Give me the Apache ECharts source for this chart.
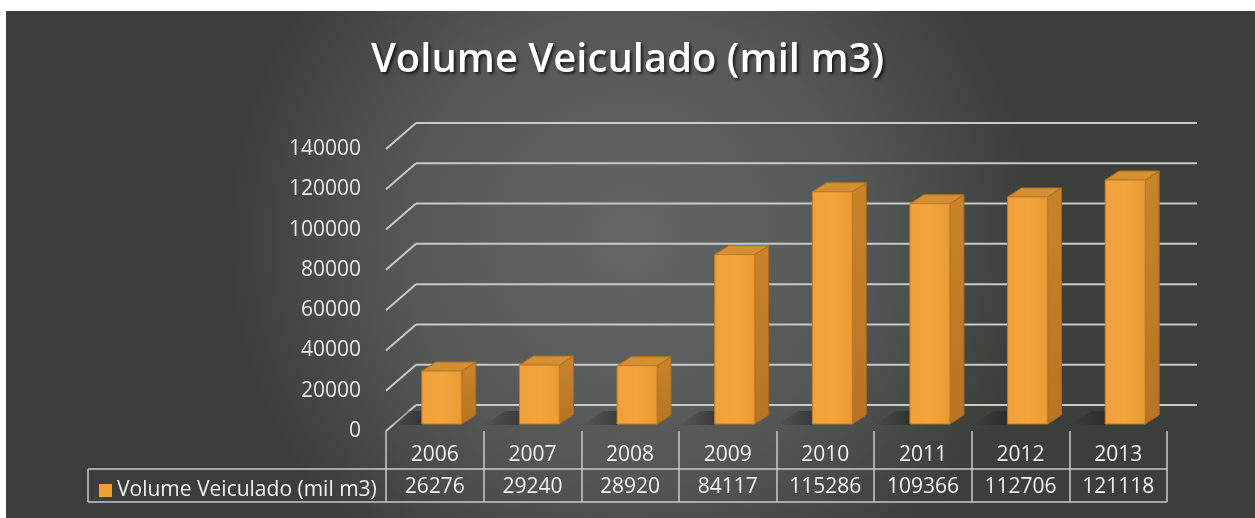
<!DOCTYPE html>
<html><head><meta charset="utf-8">
<script src="https://cdn.jsdelivr.net/npm/echarts@6/dist/echarts.min.js"></script>
<style>html,body{margin:0;padding:0;background:#fff}#c{width:1255px;height:518px}</style>
</head><body><div id="c"></div>
<script>
const years = ['2006', '2007', '2008', '2009', '2010', '2011', '2012', '2013'];
const values = [26276, 29240, 28920, 84117, 115286, 109366, 112706, 121118];
const yTicks = [0, 20000, 40000, 60000, 80000, 100000, 120000, 140000];
const seriesName = 'Volume Veiculado (mil m3)';
const titleText = 'Volume Veiculado (mil m3)';

const FONT = 'Open Sans';
const GRID = '#c6cac8';
const BACK_DX = 30, BACK_DY = -26;
const BAR_DX = 7, BAR_DY = -7;
const BAR_W = 40, DEP_X = 14, DEP_Y = -9;

const chart = echarts.init(document.getElementById('c'));

function wallItem(params, api) {
  const v = api.value(1);
  const band = api.size([1, 0])[0];
  const pl = api.coord([0, v]);
  const pr = api.coord([years.length - 1, v]);
  const xl = pl[0] - band / 2, xr = pr[0] + band / 2, y = pl[1];
  return {
    type: 'group',
    children: [
      { type: 'line', shape: { x1: xl, y1: y, x2: xl + BACK_DX, y2: y + BACK_DY },
        style: { stroke: GRID, lineWidth: 2 } },
      { type: 'line', shape: { x1: xl + BACK_DX, y1: y + BACK_DY, x2: xr + BACK_DX, y2: y + BACK_DY },
        style: { stroke: GRID, lineWidth: 2 } }
    ]
  };
}

function barItem(params, api) {
  const i = api.value(0), v = api.value(1);
  const p0 = api.coord([i, 0]);
  const p1 = api.coord([i, v]);
  const cx = p0[0] + BAR_DX;
  const xl = cx - BAR_W / 2, xr = cx + BAR_W / 2;
  const yb = p0[1] + BAR_DY, yt = p1[1] + BAR_DY;
  return {
    type: 'group',
    children: [
      { type: 'polygon', shape: { points: [[xl - 36, yb + 1], [xl - 14, yb - 13], [xl + 6, yb - 13], [xl, yb + 1]] },
        style: { fill: new echarts.graphic.LinearGradient(1, 0, 0, 0, [
          { offset: 0, color: 'rgba(25,28,26,0.55)' }, { offset: 1, color: 'rgba(25,28,26,0)' }]) } },
      { type: 'polygon', shape: { points: [[xr, yt], [xr + DEP_X, yt + DEP_Y], [xr + DEP_X, yb + DEP_Y], [xr, yb]] },
        style: { fill: new echarts.graphic.LinearGradient(0, 0, 0, 1, [
          { offset: 0, color: '#c9832a' }, { offset: 1, color: '#b87424' }]), stroke: '#a8661c', lineWidth: 1 } },
      { type: 'polygon', shape: { points: [[xl, yt], [xl + DEP_X, yt + DEP_Y], [xr + DEP_X, yt + DEP_Y], [xr, yt]] },
        style: { fill: '#d48f33', stroke: '#b0701f', lineWidth: 1 } },
      { type: 'rect', shape: { x: xl, y: yt, width: BAR_W, height: yb - yt },
        style: { fill: new echarts.graphic.LinearGradient(0, 0, 1, 0, [
          { offset: 0, color: '#f0a038' }, { offset: 0.5, color: '#f3a63e' }, { offset: 1, color: '#e99a33' }]),
          stroke: '#c27a24', lineWidth: 1 } }
    ]
  };
}

chart.setOption({
  backgroundColor: '#ffffff',
  animation: false,
  textStyle: { fontFamily: FONT },
  title: {
    text: titleText, left: 'center', top: 36,
    textStyle: { fontFamily: FONT, fontSize: 40, fontWeight: 600, color: '#ffffff',
      textShadowColor: 'rgba(0,0,0,0.7)', textShadowBlur: 3, textShadowOffsetX: 2, textShadowOffsetY: 2 }
  },
  legend: {
    left: 94, top: 475, icon: 'rect', itemWidth: 13, itemHeight: 13, itemGap: 0,
    data: [seriesName],
    textStyle: { color: '#f2f2f2', fontSize: 21, fontFamily: FONT, padding: [0, 0, 0, 0] }
  },
  graphic: [
    { type: 'rect', z: -100, shape: { x: 6, y: 11, width: 1249, height: 507 },
      style: { fill: new echarts.graphic.RadialGradient(0.5, 0.45, 0.8, [
        { offset: 0, color: '#626664' }, { offset: 0.55, color: '#545856' }, { offset: 1, color: '#3a3f3c' }]) } },
    { type: 'line', z: 10, shape: { x1: 88, y1: 469, x2: 1167, y2: 469 }, style: { stroke: GRID, lineWidth: 1.5 } },
    { type: 'line', z: 10, shape: { x1: 88, y1: 502, x2: 1167, y2: 502 }, style: { stroke: GRID, lineWidth: 1.5 } },
    { type: 'line', z: 10, shape: { x1: 88, y1: 469, x2: 88, y2: 502 }, style: { stroke: GRID, lineWidth: 1.5 } }
  ],
  grid: { left: 386, top: 149, width: 781, height: 282, containLabel: false },
  xAxis: {
    type: 'category', data: years, boundaryGap: true,
    axisLine: { show: false },
    axisTick: { show: true, interval: 0, length: 71, lineStyle: { color: GRID, width: 1.5 } },
    axisLabel: {
      interval: 0, margin: 8, color: '#f2f2f2',
      formatter: (val, idx) => '{y|' + val + '}\n{v|' + values[idx] + '}',
      rich: {
        y: { fontSize: 21, lineHeight: 32, color: '#f2f2f2', fontFamily: FONT },
        v: { fontSize: 21, lineHeight: 32, color: '#f2f2f2', fontFamily: FONT }
      }
    },
    splitLine: { show: false }
  },
  yAxis: {
    type: 'value', min: 0, max: 140000, interval: 20000,
    axisLine: { show: false }, axisTick: { show: false }, splitLine: { show: false },
    axisLabel: { color: '#e8e8e8', fontSize: 21, margin: 25, fontFamily: FONT, formatter: v => String(v) }
  },
  series: [
    { type: 'custom', name: 'wall', z: 1, silent: true, renderItem: wallItem,
      data: yTicks.map(v => [0, v]), encode: { x: 0, y: 1 } },
    { type: 'custom', name: seriesName, z: 3, renderItem: barItem, itemStyle: { color: '#f0a030' },
      data: values.map((v, i) => [i, v]), encode: { x: 0, y: 1 } }
  ]
});
</script>
</body></html>
